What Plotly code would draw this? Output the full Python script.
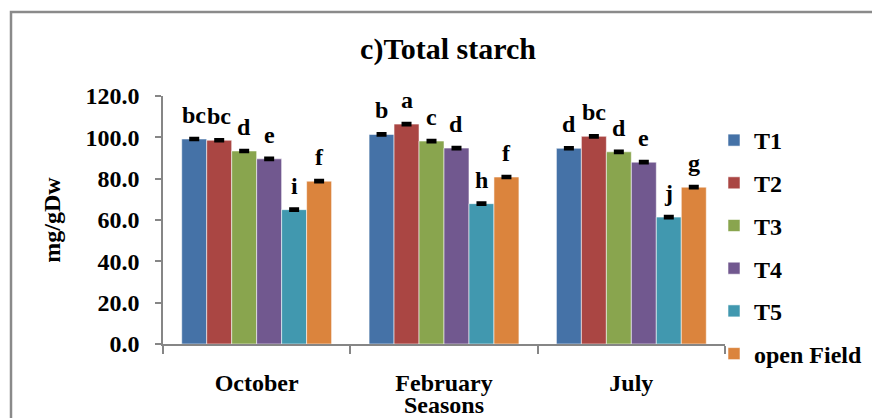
import plotly.graph_objects as go

seasons = ["October", "February", "July"]
series_names = ["T1", "T2", "T3", "T4", "T5", "open Field"]
colors = ["#4572A7", "#AA4643", "#89A54E", "#71588F", "#4198AF", "#DB843D"]

t1 = [99.2, 101.4, 94.7]
t2 = [98.6, 106.4, 100.5]
t3 = [93.4, 98.2, 93.0]
t4 = [89.6, 94.8, 88.0]
t5 = [65.0, 67.9, 61.4]
open_field = [78.8, 80.8, 75.9]
values = [t1, t2, t3, t4, t5, open_field]

err = [0.4, 0.4, 0.4]

letters_t1 = ["bc", "b", "d"]
letters_t2 = ["bc", "a", "bc"]
letters_t3 = ["d", "c", "d"]
letters_t4 = ["e", "d", "e"]
letters_t5 = ["i", "h", "j"]
letters_of = ["f", "f", "g"]
letters = [letters_t1, letters_t2, letters_t3, letters_t4, letters_t5, letters_of]

FONT = "Liberation Serif, Times New Roman, serif"
BARGAP = 0.2

# page body has an 8px margin: figure drawn 8px in from top-left of window
W, H = 872, 410
L, R, T, B = 155, 155, 88, 74
PW, PH = W - L - R, H - T - B

fig = go.Figure()
for i, (name, vals, col) in enumerate(zip(series_names, values, colors)):
    fig.add_trace(go.Bar(
        name=name, x=seasons, y=vals, legendgroup=name,
        marker=dict(color=col, line=dict(color="rgba(255,255,255,0.55)", width=1)),
        error_y=dict(type="data", array=err, color="black", thickness=3, width=5),
    ))

n = len(series_names)
bw = (1 - BARGAP) / n
annotations = []
for i in range(n):
    for j in range(len(seasons)):
        xpos = j - (1 - BARGAP) / 2 + (i + 0.5) * bw
        annotations.append(dict(
            x=xpos, y=values[i][j], xref="x", yref="y", text=letters[i][j],
            showarrow=False, yanchor="bottom", yshift=9,
            font=dict(family=FONT, size=24, color="black", weight="bold"),
        ))

fig.update_layout(
    width=W, height=H,
    margin=dict(l=L, r=R, t=T, b=B, autoexpand=False),
    paper_bgcolor="white", plot_bgcolor="white",
    barmode="group", bargap=BARGAP, bargroupgap=0,
    font=dict(family=FONT, size=24, color="black", weight="bold"),
    title=dict(text="c)Total starch", x=(440 - L) / PW, xref="paper", xanchor="center",
               y=1 - 40 / H, yref="container", yanchor="middle",
               font=dict(family=FONT, size=30, color="black", weight="bold")),
    legend=dict(x=(706 - L) / PW, xanchor="left", y=(T + PH - 110) / PH, yanchor="top",
                maxheight=400,
                tracegroupgap=8.5, font=dict(family=FONT, size=24, color="black", weight="bold"),
                bgcolor="rgba(0,0,0,0)"),
    annotations=annotations,
    shapes=[dict(type="rect", xref="paper", yref="paper",
                 x0=(3 - L) / PW, x1=1.6, y0=-0.6, y1=(T + PH - 4) / PH,
                 line=dict(color="#8a8a8a", width=2.5), fillcolor="rgba(0,0,0,0)")],
)

fig.update_xaxes(
    type="category", automargin=False, showline=True, linecolor="#868686", linewidth=1.5,
    ticks="outside", tickson="boundaries", ticklen=8, tickcolor="#868686", tickwidth=1.5,
    showgrid=False, ticklabelstandoff=16,
    tickfont=dict(family=FONT, size=24, color="black", weight="bold"),
    title=dict(text="Seasons", standoff=4,
               font=dict(family=FONT, size=24, color="black", weight="bold")),
)
fig.update_yaxes(
    range=[0, 120], dtick=20, tickformat=".1f", automargin=False,
    showline=True, linecolor="#868686", linewidth=1.5,
    ticks="outside", ticklen=6, tickcolor="#868686", tickwidth=1.5, showgrid=False, zeroline=False,
    ticklabelstandoff=11,
    tickfont=dict(family=FONT, size=24, color="black", weight="bold"),
    title=dict(text="mg/gDw", standoff=18,
               font=dict(family=FONT, size=24, color="black", weight="bold")),
)

fig.write_html("out.html")
